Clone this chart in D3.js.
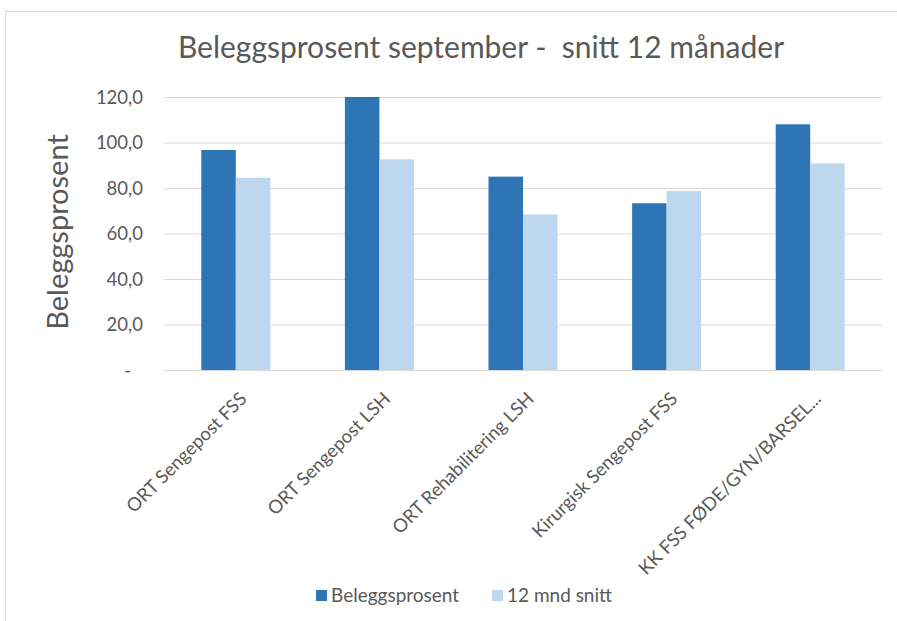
<!DOCTYPE html>
<html><head><meta charset="utf-8">
<script src="https://cdn.jsdelivr.net/npm/d3@7"></script>
<style>body{margin:0;background:#fff}svg{display:block;font-family:Lato,"Open Sans",sans-serif}</style>
</head><body>
<svg id="c" width="897" height="621"></svg>
<script>
const categories = ["ORT Sengepost FSS","ORT Sengepost LSH","ORT Rehabilitering LSH","Kirurgisk Sengepost FSS","KK FSS FØDE/GYN/BARSEL..."];
const seriesNames = ["Beleggsprosent","12 mnd snitt"];
const belegg = [96.7, 120.0, 85.0, 73.3, 108.0];
const snitt12 = [84.5, 92.6, 68.4, 78.7, 90.8];
const yTicks = [0,20,40,60,80,100,120];
const colors = ["#2E75B6","#BDD7EE"];

const svg = d3.select("#c");
svg.append("rect").attr("x",5.5).attr("y",11.5).attr("width",900).attr("height",620)
  .attr("fill","#fff").attr("stroke","#d9d9d9");

const x0 = d3.scaleBand().domain(categories).range([164,882]).padding(0);
const x1 = d3.scaleBand().domain(seriesNames).range([0,69]);
const y = d3.scaleLinear().domain([0,120]).range([370,97]);

// gridlines
svg.append("g").selectAll("line").data(yTicks).join("line")
  .attr("x1",164).attr("x2",882).attr("y1",d=>y(d)+0.5).attr("y2",d=>y(d)+0.5)
  .attr("stroke","#d9d9d9").attr("stroke-width",1);

// y axis labels
const fmt = d => d===0 ? "-" : d3.format(".1f")(d).replace(".",",");
const yAxis = d3.axisLeft(y).tickValues(yTicks).tickFormat(fmt).tickSize(0).tickPadding(0);
const yg = svg.append("g").attr("transform","translate(143,0)").call(yAxis);
yg.select(".domain").remove();
yg.selectAll("text").attr("fill","#595959").style("font-size","18.5px").style("font-family","Lato,sans-serif")
  .attr("x",0).attr("dy","0.35em");
yg.selectAll(".tick").filter(d=>d===0).select("text").attr("x",-12);

// bars
const data = categories.map((c,i)=>({c, vals:[belegg[i], snitt12[i]]}));
const g = svg.append("g");
data.forEach(d=>{
  const gx = x0(d.c) + (x0.bandwidth()-69)/2;
  g.selectAll(null).data(d.vals.map((v,j)=>({v,j}))).join("rect")
    .attr("x",e=>gx + x1(seriesNames[e.j]))
    .attr("width",x1.bandwidth())
    .attr("y",e=>y(e.v)).attr("height",e=>y(0)-y(e.v))
    .attr("fill",e=>colors[e.j]);
});

// x labels
svg.append("g").selectAll("text").data(categories).join("text")
  .attr("transform",d=>`translate(${x0(d)+x0.bandwidth()/2+12},400) rotate(-45)`)
  .attr("text-anchor","end").attr("fill","#595959").style("font-size","18.5px")
  .text(d=>d);

// title
svg.append("text").attr("x",481).attr("y",58).attr("text-anchor","middle")
  .attr("fill","#595959").style("font-size","30px")
  .style("white-space","pre").text("Beleggsprosent september -  snitt 12 månader");

// y title
svg.append("text").attr("transform","translate(68,232) rotate(-90)").attr("text-anchor","middle")
  .attr("fill","#595959").style("font-size","29px").text("Beleggsprosent");

// legend
const leg = svg.append("g");
const legX = [316, 492];
seriesNames.forEach((s,i)=>{
  leg.append("rect").attr("x",legX[i]).attr("y",590).attr("width",11).attr("height",11).attr("fill",colors[i]);
  leg.append("text").attr("x",legX[i]+15).attr("y",602).attr("fill","#595959").style("font-size","19px").text(s);
});
</script>
</body></html>
